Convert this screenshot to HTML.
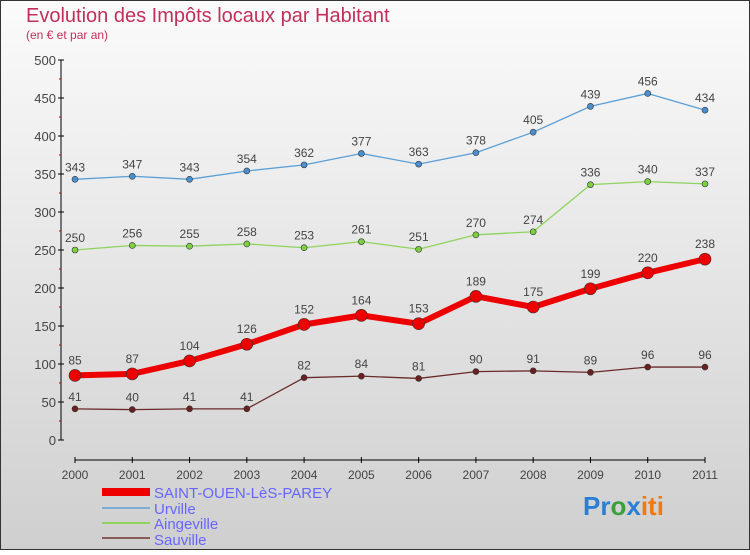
<!DOCTYPE html>
<html><head><meta charset="utf-8"><style>
html,body{margin:0;padding:0}
body{width:750px;height:550px;overflow:hidden;font-family:"Liberation Sans",sans-serif}
</style></head><body>
<svg width="750" height="550" xmlns="http://www.w3.org/2000/svg">
<defs><linearGradient id="bg" x1="0" y1="0" x2="0" y2="1"><stop offset="0" stop-color="#fbfbfb"/><stop offset="1" stop-color="#cfcfcf"/></linearGradient></defs>
<rect x="0.5" y="0.5" width="749" height="549" fill="url(#bg)" stroke="#333"/>
<text x="26" y="22" font-size="20" fill="#c0305a">Evolution des Impôts locaux par Habitant</text>
<text x="26" y="39" font-size="12" fill="#c0305a">(en € et par an)</text>
<g id="axes"></g><g id="series"></g>
<g>
<rect x="102" y="488" width="48" height="8" fill="#e00"/>
<text x="154" y="498" font-size="15" fill="#66f">SAINT-OUEN-LèS-PAREY</text>
<line x1="102" y1="508" x2="150" y2="508" stroke="#7aaed6" stroke-width="2"/>
<text x="154" y="514" font-size="15" fill="#66f">Urville</text>
<line x1="102" y1="523" x2="150" y2="523" stroke="#8ed45c" stroke-width="2"/>
<text x="154" y="529" font-size="15" fill="#66f">Aingeville</text>
<line x1="102" y1="538" x2="150" y2="538" stroke="#8a5a5a" stroke-width="2"/>
<text x="154" y="545" font-size="15" fill="#66f">Sauville</text>
</g>
<text x="583" y="515" font-size="26" font-weight="bold"><tspan fill="#2a7fd4">Pr</tspan><tspan fill="#3aa03a">o</tspan><tspan fill="#2a7fd4">x</tspan><tspan fill="#f07a10">iti</tspan></text>
</svg>
<script>
const years=[2000,2001,2002,2003,2004,2005,2006,2007,2008,2009,2010,2011];
const saintOuen=[85,87,104,126,152,164,153,189,175,199,220,238];
const urville=[343,347,343,354,362,377,363,378,405,439,456,434];
const aingeville=[250,256,255,258,253,261,251,270,274,336,340,337];
const sauville=[41,40,41,41,82,84,81,90,91,89,96,96];
const yTicks=[0,50,100,150,200,250,300,350,400,450,500];
const NS="http://www.w3.org/2000/svg";
const X=i=>75+i*(630/(years.length-1));
const Y=v=>440-v*0.76;
function mk(t,a,p){const e=document.createElementNS(NS,t);for(const k in a)e.setAttribute(k,a[k]);p.appendChild(e);return e;}
const ax=document.getElementById('axes');
const yl=mk('line',{x1:61,y1:Y(500),x2:61,y2:Y(0),stroke:'#000'},ax);


yTicks.forEach(v=>{
  mk('line',{x1:58,x2:64,y1:Y(v),y2:Y(v),stroke:'#000'},ax);
  if(v<500)mk('line',{x1:59,x2:61,y1:Y(v+25),y2:Y(v+25),stroke:'#c00'},ax);
  const t=mk('text',{x:56,y:Y(v)+5,'text-anchor':'end','font-size':13,fill:'#444'},ax);t.textContent=v;
  
  
});
const xl=mk('line',{x1:75,y1:460,x2:705,y2:460,stroke:'#000'},ax);


years.forEach((y,i)=>{
  mk('line',{x1:X(i),x2:X(i),y1:457,y2:463,stroke:'#000'},ax);
  const t=mk('text',{x:X(i),y:479,'text-anchor':'middle','font-size':12,fill:'#444'},ax);t.textContent=y;
  
  
});
const sg=document.getElementById('series');
function draw(vals,name,color,w,r,dot){
  const g=mk('g',{},sg);
  
  
  const pl=mk('polyline',{points:vals.map((v,i)=>X(i)+','+Y(v)).join(' '),fill:'none',stroke:color,'stroke-width':w,'stroke-linejoin':'round'},g);
  
  
  vals.forEach((v,i)=>{
    const c=mk('circle',{cx:X(i),cy:Y(v),r:r,fill:dot,stroke:'#333','stroke-width':0.6},g);
    
    
    const t=mk('text',{x:X(i),y:Y(v)-(r+5),'text-anchor':'middle','font-size':12,fill:'#444'},g);t.textContent=v;
    
    
  });
}
draw(urville,'urville','#5a9fd6',1.3,3,'#4a90d0');
draw(aingeville,'aingeville','#8ed45c',1.3,3,'#7cd040');
draw(sauville,'sauville','#6a2a2a',1.3,3,'#6a2020');
draw(saintOuen,'saint-ouen','#ee0000',6,6,'#ee0000');
</script>
</body></html>
